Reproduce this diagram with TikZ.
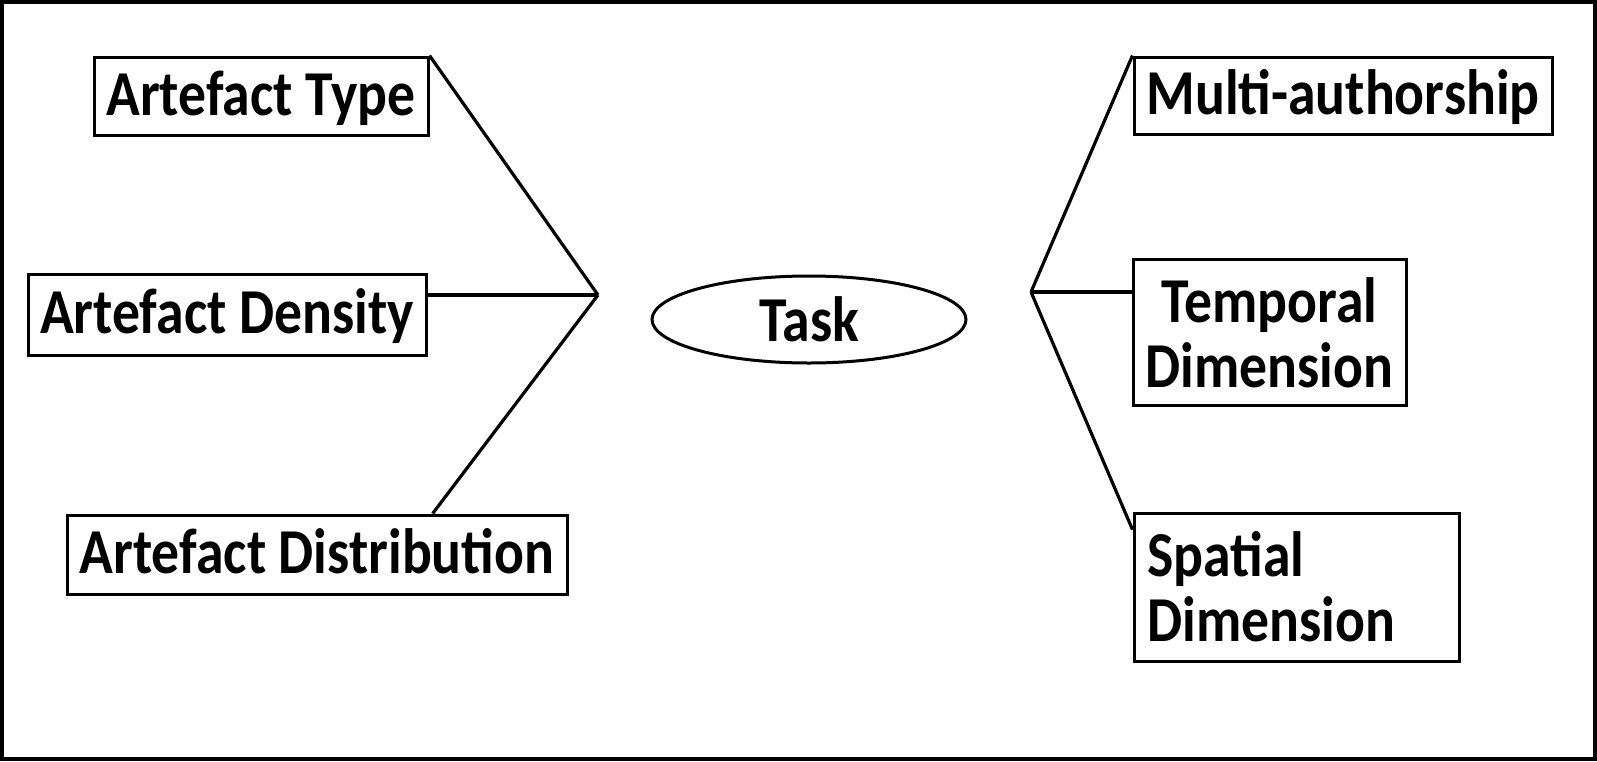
\documentclass[tikz,border=0pt]{standalone}
\usepackage{fontspec}
\setmainfont{Carlito}
\newfontfamily\lblfont[FakeStretch=0.87]{Carlito}
\usetikzlibrary{shapes.geometric,calc}
\begin{document}
\begin{tikzpicture}[x=0.5pt,y=-0.5pt,
  lbl/.style={font=\lblfont\fontsize{32}{32.5}\selectfont\bfseries},
  box/.style={draw,line width=1.5pt,inner sep=0pt,lbl},
  oneline/.style={box,text height=24pt,text depth=5pt},
  conn/.style={line width=1.6pt}]
\useasboundingbox (0,0) rectangle (1597,761);
\draw[line width=2pt] (2,2) rectangle (1595,759);
% left boxes
\node[oneline,minimum width=167pt,minimum height=39pt] (type) at (261,96) {Artefact Type};
\node[oneline,minimum width=199pt,minimum height=40.5pt] (dens) at (227,314.5) {Artefact Density};
\node[oneline,minimum width=250pt,minimum height=39.5pt] (dist) at (317,554.5) {Artefact Distribution};
% centre
\node[draw,ellipse,line width=1.5pt,minimum width=157pt,minimum height=43.5pt,inner sep=0pt,lbl] (task) at (809,319.5) {Task};
% right boxes
\node[oneline,minimum width=209pt,minimum height=38.5pt] (multi) at (1343,95.5) {Multi-authorship};
\node[box,minimum width=136.5pt,minimum height=73pt,align=center] (temp) at (1269.5,332.5) {Temporal\\Dimension};
\node[box,minimum width=162.5pt,minimum height=74pt,text width=149pt,inner xsep=6.75pt,align=left] (spat) at (1296.5,587) {Spatial\\Dimension};
% junctions
\coordinate (L) at (598,295);
\coordinate (R) at (1031,292);
\coordinate (distT) at ($(dist.north west)!0.73!(dist.north east)$);
\coordinate (spatL) at ($(spat.north west)!0.12!(spat.south west)$);
\draw[conn] (type.north east) -- (L);
\draw[conn] (dens.east |- L) -- (L);
\draw[conn] (L) -- (distT);
\draw[conn] (multi.north west) -- (R);
\draw[conn] (R) -- (temp.west |- R);
\draw[conn] (R) -- (spatL);
\end{tikzpicture}
\end{document}
